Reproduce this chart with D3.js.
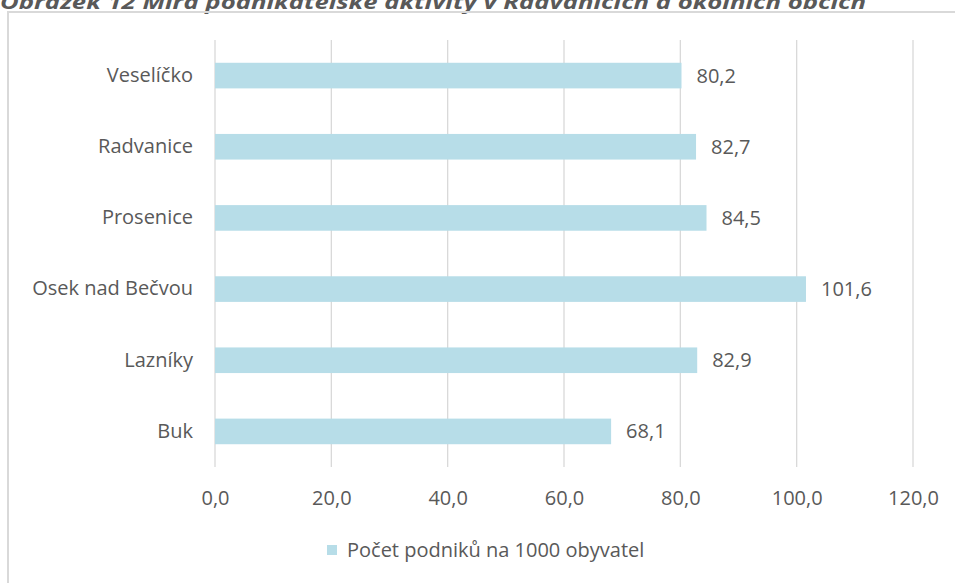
<!DOCTYPE html>
<head>
<meta charset="utf-8">
<style>
body { margin: 0; background: #fff; }
svg text { font-family: "Open Sans", Lato, sans-serif; fill: #595959; }
.grid line { stroke: #d9d9d9; stroke-width: 1.3; }
</style>
</head>
<body>
<svg></svg>
<script src="https://cdn.jsdelivr.net/npm/d3@7"></script>
<script>

const titleText = 'Obrázek 12 Míra podnikatelské aktivity v Radvanicích a okolních obcích'
const categories = ['Veselíčko', 'Radvanice', 'Prosenice', 'Osek nad Bečvou', 'Lazníky', 'Buk']
const values = [80.2, 82.7, 84.5, 101.6, 82.9, 68.1]
const tickValues = [0, 20, 40, 60, 80, 100, 120]
const seriesName = 'Počet podniků na 1000 obyvatel'

const width = 955, height = 583
const plot = {left: 215, right: 913, top: 40, bottom: 467}
const barColor = '#b7dde8'
const fontSize = '20px'

const fmt = v => d3.format('.1f')(v).replace('.', ',')

let svg = d3.select('svg')
  .attr('width', width)
  .attr('height', height)

// title, cut at the top edge as in the document
svg.append('text')
  .attr('x', 0)
  .attr('y', 9)
  .attr('textLength', 866)
  .attr('lengthAdjust', 'spacingAndGlyphs')
  .style('font-size', '20px')
  .style('font-weight', 'bold')
  .style('font-style', 'italic')
  .text(titleText)

// chart frame
svg.append('rect')
  .attr('x', 8)
  .attr('y', 12)
  .attr('width', 960)
  .attr('height', 600)
  .attr('fill', 'none')
  .attr('stroke', '#d9d9d9')
  .attr('stroke-width', 2)

let x = d3.scaleLinear()
  .domain([0, 120])
  .range([plot.left, plot.right])

let y = d3.scaleBand()
  .domain(categories)
  .range([plot.top, plot.bottom])
  .paddingInner(0.64)
  .paddingOuter(0.32)

// vertical gridlines
svg.append('g')
  .attr('class', 'grid')
  .selectAll('line')
  .data(tickValues)
  .enter()
  .append('line')
    .attr('x1', d => x(d))
    .attr('x2', d => x(d))
    .attr('y1', plot.top)
    .attr('y2', plot.bottom)

// bars
svg.append('g')
  .selectAll('rect')
  .data(categories)
  .enter()
  .append('rect')
    .attr('x', x(0))
    .attr('y', d => y(d))
    .attr('width', (d, i) => x(values[i]) - x(0))
    .attr('height', y.bandwidth())
    .attr('fill', barColor)

// value labels
svg.append('g')
  .selectAll('text')
  .data(categories)
  .enter()
  .append('text')
    .attr('x', (d, i) => x(values[i]) + 15)
    .attr('y', d => y(d) + y.bandwidth() / 2)
    .attr('dy', '0.35em')
    .style('font-size', fontSize)
    .text((d, i) => fmt(values[i]))

// category axis
let yAxis = svg.append('g')
  .attr('transform', `translate(${plot.left - 22}, 0)`)
  .call(d3.axisLeft(y).tickSize(0).tickPadding(0))
yAxis.select('.domain').remove()
yAxis.selectAll('text')
  .style('font-size', fontSize)
  .attr('fill', null)

// value axis labels
let xAxis = svg.append('g')
  .attr('transform', `translate(0, ${plot.bottom})`)
  .call(d3.axisBottom(x).tickValues(tickValues).tickFormat(fmt).tickSize(0).tickPadding(24))
xAxis.select('.domain').remove()
xAxis.selectAll('text')
  .style('font-size', fontSize)
  .attr('fill', null)

// legend
let legend = svg.append('g')
  .attr('transform', 'translate(327, 550)')
legend.append('rect')
  .attr('x', 0)
  .attr('y', -5)
  .attr('width', 10)
  .attr('height', 10)
  .attr('fill', barColor)
legend.append('text')
  .attr('x', 20)
  .attr('dy', '0.35em')
  .style('font-size', fontSize)
  .text(seriesName)

</script>
</body>
